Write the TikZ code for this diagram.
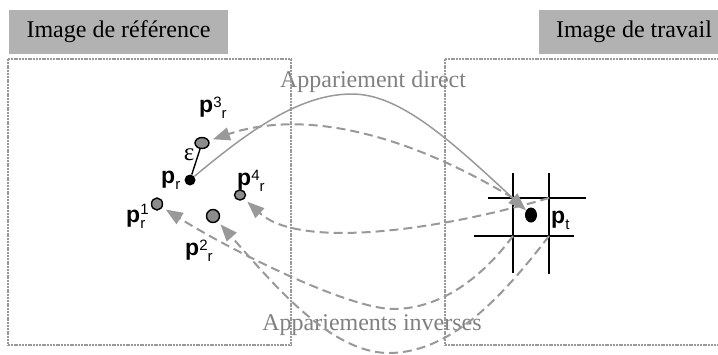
\documentclass[tikz,border=0pt]{standalone}
\usepackage{fontspec}
\setmainfont{Liberation Serif}
\newfontfamily\arialf{Liberation Sans}
\usetikzlibrary{arrows.meta,shapes.geometric}
\definecolor{boxgray}{HTML}{B2B2B2}
\definecolor{lngray}{HTML}{999999}
\definecolor{txtgray}{HTML}{808080}
\definecolor{ptgray}{HTML}{8C8C8C}
\newcommand{\pbold}{{\arialf\bfseries\fontsize{23}{23}\selectfont p}}
\newcommand{\psup}[1]{\raisebox{5pt}{\arialf\fontsize{15}{15}\selectfont #1}}
\newcommand{\psub}[1]{\raisebox{-6pt}{\arialf\fontsize{15}{15}\selectfont #1}}
\begin{document}
\begin{tikzpicture}[x=1pt,y=-1pt,
  titlebox/.style={fill=boxgray, inner sep=0pt, minimum height=44pt, font=\fontsize{24}{24}\selectfont},
  captext/.style={text=txtgray, inner sep=0pt, anchor=base, font=\fontsize{24}{24}\selectfont},
  framev/.style={draw=lngray, line width=2.8pt, dash pattern=on 2pt off 0.8pt},
  frameh/.style={draw=lngray, line width=2.2pt, dash pattern=on 2pt off 0.8pt},
  refpt/.style={ellipse, draw=black, line width=1.4pt, fill=ptgray, inner sep=0pt},
  dotpt/.style={ellipse, fill=black, inner sep=0pt},
  plab/.style={inner sep=0pt, anchor=base west},
  gridln/.style={draw=black, line width=1.4pt},
  direct/.style={draw=lngray, line width=1.5pt, -{Triangle[length=18pt,width=13pt]}},
  inverse/.style={draw=lngray, line width=2pt, dash pattern=on 9pt off 5pt, shorten >=4pt, -{Triangle[length=17pt,width=13pt]}},
  epsline/.style={draw=black, line width=1.4pt}
]
\useasboundingbox (0,0) rectangle (718,354);
\clip (0,0) rectangle (718,354);

% titles
\node[titlebox, minimum width=219pt] (tref) at (118.5,32) {Image de référence};
\node[titlebox, minimum width=190pt] (ttrav) at (634,32) {Image de travail};

% captions
\node[captext] (cdir) at (373,87) {Appariement direct};
\node[captext] (cinv) at (372,330) {Appariements inverses};

% frames
\draw[frameh] (8,59) -- (291,59);
\draw[frameh] (8,345) -- (291,345);
\draw[framev] (8,59) -- (8,345);
\draw[framev] (291,59) -- (291,345);
\draw[frameh] (445,59) -- (722,59);
\draw[frameh] (445,345) -- (722,345);
\draw[framev] (445,59) -- (445,345);

% grid
\draw[gridln] (513,173) -- (513,273);
\draw[gridln] (549,173) -- (549,274);
\draw[gridln] (488,198) -- (586,198);
\draw[gridln] (474,236) -- (574,236);
\coordinate (g11) at (513,198);
\coordinate (g12) at (549,198);
\coordinate (g21) at (513,236);
\coordinate (g22) at (549,236);

% points
\node[dotpt, minimum width=11pt, minimum height=11pt] (pr) at (190,180) {};
\node[refpt, minimum width=14pt, minimum height=11pt] (p3) at (202,143) {};
\node[refpt, minimum width=11pt, minimum height=10pt] (p4) at (240,195) {};
\node[refpt, minimum width=11pt, minimum height=12pt] (p1) at (157,204) {};
\node[refpt, minimum width=13pt, minimum height=13pt] (p2) at (213,216) {};
\node[dotpt, minimum width=12pt, minimum height=15pt] (pt) at (531,215) {};

% epsilon
\draw[epsline] (pr) -- (p3);
\node[inner sep=0pt, font=\fontsize{25}{25}\selectfont] (eps) at (189,155) {ε};

% labels
\node[plab] (lp3) at (199,112) {\pbold\psup{3}\psub{r}};
\node[plab] (lpr) at (161,183) {\pbold\psub{r}};
\node[plab] (lp4) at (237,185) {\pbold\psup{4}\psub{r}};
\node[plab] (lp1) at (126,222) {\pbold\rlap{\raisebox{8pt}{\arialf\fontsize{15}{15}\selectfont 1}}\psub{r}};
\node[plab] (lp2) at (185,255) {\pbold\psup{2}\psub{r}};
\node[plab] (lpt) at (551,223) {\pbold\psub{t}};

% connectors
\coordinate (dtop) at (352,94);
\coordinate (b1) at (395,309);
\coordinate (b2) at (390,353);
\draw[direct] (pr) .. controls (250,130) and (300,94) .. (dtop) .. controls (400,94) and (450,140) .. (pt);
\draw[inverse] (g11) .. controls (400,130) and (300,110) .. (p3);
\draw[inverse] (g12) .. controls (440,230) and (300,250) .. (p4);
\draw[inverse] (g21) .. controls (480,280) and (440,308) .. (b1) .. controls (350,310) and (230,250) .. (p1);
\draw[inverse] (g22) .. controls (500,300) and (450,352) .. (b2) .. controls (330,354) and (270,280) .. (p2);
\end{tikzpicture}
\end{document}
